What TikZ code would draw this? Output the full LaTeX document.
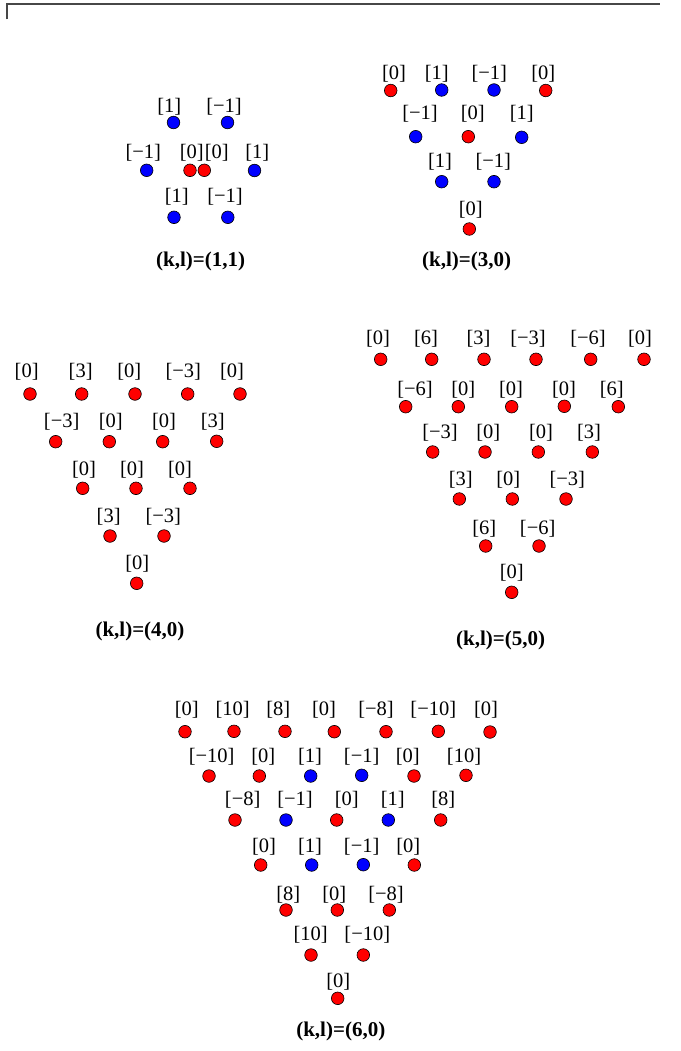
\documentclass[tikz,border=0pt]{standalone}
\usepackage{fontspec}
\setmainfont{Liberation Serif}
\tikzset{
  rd/.style={circle,draw=black,line width=0.6pt,fill=red,inner sep=0pt,minimum size=12.6pt},
  bd/.style={circle,draw=black,line width=0.6pt,fill=blue,inner sep=0pt,minimum size=12.6pt},
  lb/.style={inner sep=0pt,font=\fontsize{20.5}{22}\selectfont},
  captxt/.style={inner sep=0pt,font=\fontsize{21}{24}\selectfont\bfseries},
  frameline/.style={draw=black!72,line width=2pt}
}
\begin{document}
\begin{tikzpicture}[x=1pt,y=-1pt]
\useasboundingbox (0,0) rectangle (680,1051);
\coordinate (f1) at (7,19.5);
\coordinate (f2) at (7,4.5);
\coordinate (f3) at (660,4.5);
\draw[frameline] (f1) -- (f2) -- (f3);
% ---------- (1,1)
\node[bd] (a11) at (173.5,122.5) {};
\node[bd] (a12) at (227.5,122.5) {};
\node[bd] (a21) at (146.7,170.3) {};
\node[rd] (a22) at (190,170.3) {};
\node[rd] (a23) at (204.3,170.3) {};
\node[bd] (a24) at (254.5,170.5) {};
\node[bd] (a31) at (174,217.3) {};
\node[bd] (a32) at (227.8,217.3) {};
\node[lb] (la11) at (169.3,106.7) {[1]};
\node[lb] (la12) at (224,106.7) {[−1]};
\node[lb] (la21) at (143.3,153) {[−1]};
\node[lb] (la22) at (191.7,152.7) {[0]};
\node[lb] (la23) at (216.7,152.7) {[0]};
\node[lb] (la24) at (257.3,152.7) {[1]};
\node[lb] (la31) at (176.7,196.7) {[1]};
\node[lb] (la32) at (225,196.7) {[−1]};
\node[captxt] (ca) at (200.7,261.7) {(k,l)=(1,1)};
% ---------- (3,0)
\node[rd] (b11) at (390.7,90.5) {};
\node[bd] (b12) at (441.7,90) {};
\node[bd] (b13) at (494,90) {};
\node[rd] (b14) at (545.7,90.5) {};
\node[bd] (b21) at (415.7,136.7) {};
\node[rd] (b22) at (468.3,136.7) {};
\node[bd] (b23) at (521.7,137.3) {};
\node[bd] (b31) at (441.7,181.7) {};
\node[bd] (b32) at (494,181.7) {};
\node[rd] (b41) at (469.3,229) {};
\node[lb] (lb11) at (394,74) {[0]};
\node[lb] (lb12) at (436.7,74) {[1]};
\node[lb] (lb13) at (489.3,74) {[−1]};
\node[lb] (lb14) at (543.3,74) {[0]};
\node[lb] (lb21) at (420,114) {[−1]};
\node[lb] (lb22) at (472.7,114) {[0]};
\node[lb] (lb23) at (521.7,114) {[1]};
\node[lb] (lb31) at (440,161.7) {[1]};
\node[lb] (lb32) at (493.3,161.7) {[−1]};
\node[lb] (lb41) at (470.7,209.3) {[0]};
\node[captxt] (cb) at (466.7,261.7) {(k,l)=(3,0)};
% ---------- (4,0)
\node[rd] (c11) at (30,394) {};
\node[rd] (c12) at (81.7,394) {};
\node[rd] (c13) at (135,394) {};
\node[rd] (c14) at (187.7,394) {};
\node[rd] (c15) at (240,394) {};
\node[rd] (c21) at (55.7,441.7) {};
\node[rd] (c22) at (109.3,441.7) {};
\node[rd] (c23) at (162.7,441.7) {};
\node[rd] (c24) at (216.7,441.3) {};
\node[rd] (c31) at (82.7,488.3) {};
\node[rd] (c32) at (136,488.3) {};
\node[rd] (c33) at (190,488.3) {};
\node[rd] (c41) at (110,536) {};
\node[rd] (c42) at (164,536) {};
\node[rd] (c51) at (136.7,583.3) {};
\node[lb] (lc11) at (26.7,371.7) {[0]};
\node[lb] (lc12) at (80.7,371.7) {[3]};
\node[lb] (lc13) at (129.3,371.7) {[0]};
\node[lb] (lc14) at (183.3,371.7) {[−3]};
\node[lb] (lc15) at (232,371.7) {[0]};
\node[lb] (lc21) at (61.7,421.7) {[−3]};
\node[lb] (lc22) at (110.7,421.7) {[0]};
\node[lb] (lc23) at (164,421.7) {[0]};
\node[lb] (lc24) at (212.7,421.7) {[3]};
\node[lb] (lc31) at (84,469.3) {[0]};
\node[lb] (lc32) at (132,469.3) {[0]};
\node[lb] (lc33) at (180,469.3) {[0]};
\node[lb] (lc41) at (108.7,516.7) {[3]};
\node[lb] (lc42) at (163.3,516.7) {[−3]};
\node[lb] (lc51) at (137.3,564) {[0]};
\node[captxt] (cc) at (140,631.7) {(k,l)=(4,0)};
% ---------- (5,0)
\node[rd] (d11) at (380.7,359.3) {};
\node[rd] (d12) at (431.7,359.3) {};
\node[rd] (d13) at (484,359.3) {};
\node[rd] (d14) at (536,359.3) {};
\node[rd] (d15) at (590.7,359.3) {};
\node[rd] (d16) at (644,359.3) {};
\node[rd] (d21) at (405.7,406.7) {};
\node[rd] (d22) at (458.3,406.7) {};
\node[rd] (d23) at (511.7,406.7) {};
\node[rd] (d24) at (564.3,406.3) {};
\node[rd] (d25) at (618.3,406.7) {};
\node[rd] (d31) at (432.7,452) {};
\node[rd] (d32) at (485,452) {};
\node[rd] (d33) at (538.3,452) {};
\node[rd] (d34) at (592.3,452) {};
\node[rd] (d41) at (459.3,499) {};
\node[rd] (d42) at (512.3,499) {};
\node[rd] (d43) at (566,499) {};
\node[rd] (d51) at (485.7,546) {};
\node[rd] (d52) at (539,546) {};
\node[rd] (d61) at (511.7,592.3) {};
\node[lb] (ld11) at (378,338.5) {[0]};
\node[lb] (ld12) at (426,338.5) {[6]};
\node[lb] (ld13) at (478.5,338.5) {[3]};
\node[lb] (ld14) at (528,338.5) {[−3]};
\node[lb] (ld15) at (588,338.5) {[−6]};
\node[lb] (ld16) at (640,338.5) {[0]};
\node[lb] (ld21) at (415,389.3) {[−6]};
\node[lb] (ld22) at (463.3,389.3) {[0]};
\node[lb] (ld23) at (511,389.3) {[0]};
\node[lb] (ld24) at (564,389.3) {[0]};
\node[lb] (ld25) at (611.7,389.3) {[6]};
\node[lb] (ld31) at (440,432.7) {[−3]};
\node[lb] (ld32) at (488.3,432.7) {[0]};
\node[lb] (ld33) at (541,432.7) {[0]};
\node[lb] (ld34) at (589,432.7) {[3]};
\node[lb] (ld41) at (460.7,480) {[3]};
\node[lb] (ld42) at (508.3,480) {[0]};
\node[lb] (ld43) at (567.3,480) {[−3]};
\node[lb] (ld51) at (484.3,528.3) {[6]};
\node[lb] (ld52) at (537.7,528.3) {[−6]};
\node[lb] (ld61) at (511.7,572.3) {[0]};
\node[captxt] (cd) at (500.7,640) {(k,l)=(5,0)};
% ---------- (6,0)
\node[rd] (e11) at (185,731.7) {};
\node[rd] (e12) at (234,731.3) {};
\node[rd] (e13) at (285,731.3) {};
\node[rd] (e14) at (334.3,731.7) {};
\node[rd] (e15) at (386,731.7) {};
\node[rd] (e16) at (438.3,731.3) {};
\node[rd] (e17) at (490,732) {};
\node[rd] (e21) at (209,776) {};
\node[rd] (e22) at (259.3,776) {};
\node[bd] (e23) at (310.7,776) {};
\node[bd] (e24) at (361.7,775.3) {};
\node[rd] (e25) at (414,776) {};
\node[rd] (e26) at (466,775.3) {};
\node[rd] (e31) at (235,820) {};
\node[bd] (e32) at (286,820) {};
\node[rd] (e33) at (336.7,820) {};
\node[bd] (e34) at (388.3,820) {};
\node[rd] (e35) at (440.7,820) {};
\node[rd] (e41) at (260.7,865) {};
\node[bd] (e42) at (311.7,865) {};
\node[bd] (e43) at (363.3,864.7) {};
\node[rd] (e44) at (414.3,865) {};
\node[rd] (e51) at (286,910) {};
\node[rd] (e52) at (337.3,910) {};
\node[rd] (e53) at (389.3,910) {};
\node[rd] (e61) at (311,955) {};
\node[rd] (e62) at (363.3,955) {};
\node[rd] (e71) at (337.7,998.3) {};
\node[lb] (le11) at (186.7,710) {[0]};
\node[lb] (le12) at (232.7,710) {[10]};
\node[lb] (le13) at (278.3,710) {[8]};
\node[lb] (le14) at (324,710) {[0]};
\node[lb] (le15) at (376,710) {[−8]};
\node[lb] (le16) at (433.3,710) {[−10]};
\node[lb] (le17) at (486,710) {[0]};
\node[lb] (le21) at (211.7,756.7) {[−10]};
\node[lb] (le22) at (263.3,756.7) {[0]};
\node[lb] (le23) at (310,756.7) {[1]};
\node[lb] (le24) at (361.7,756.7) {[−1]};
\node[lb] (le25) at (407.7,756.7) {[0]};
\node[lb] (le26) at (464,756.7) {[10]};
\node[lb] (le31) at (242.7,800) {[−8]};
\node[lb] (le32) at (295,800) {[−1]};
\node[lb] (le33) at (346.7,800) {[0]};
\node[lb] (le34) at (392.7,800) {[1]};
\node[lb] (le35) at (443.3,800) {[8]};
\node[lb] (le41) at (264,846.7) {[0]};
\node[lb] (le42) at (310,846.7) {[1]};
\node[lb] (le43) at (361.7,846.7) {[−1]};
\node[lb] (le44) at (408.3,846.7) {[0]};
\node[lb] (le51) at (288.3,895) {[8]};
\node[lb] (le52) at (334.3,895) {[0]};
\node[lb] (le53) at (386,895) {[−8]};
\node[lb] (le61) at (310.7,935) {[10]};
\node[lb] (le62) at (367.3,935) {[−10]};
\node[lb] (le71) at (338.3,981.7) {[0]};
\node[captxt] (ce) at (340.8,1031.7) {(k,l)=(6,0)};
\end{tikzpicture}
\end{document}
